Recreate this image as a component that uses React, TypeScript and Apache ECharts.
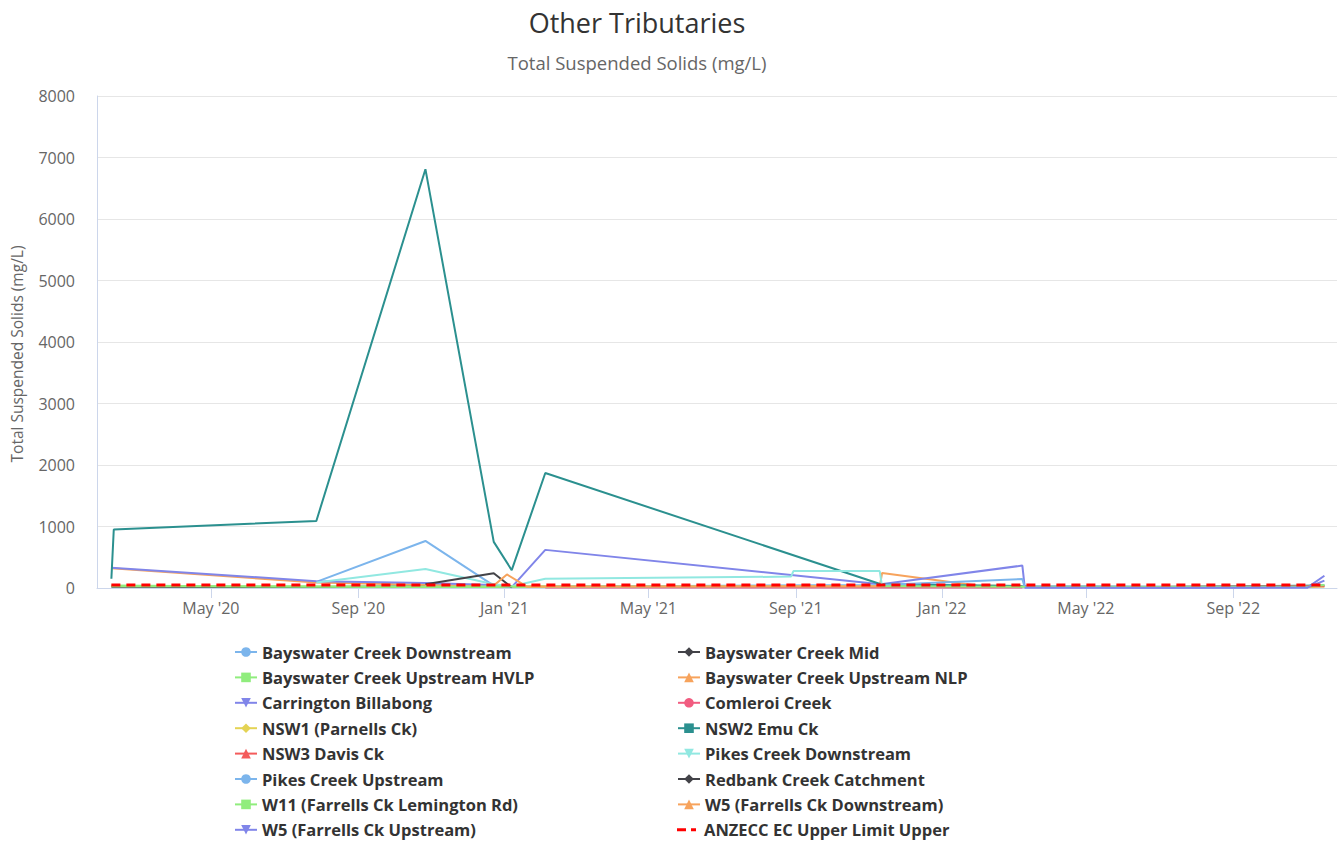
import React, { useEffect, useRef } from "react";
import * as echarts from "echarts";

// ---- data ----
const titleText = "Other Tributaries";
const subtitleText = "Total Suspended Solids (mg/L)";
const yAxisTitle = "Total Suspended Solids (mg/L)";
const yTicks = [0, 1000, 2000, 3000, 4000, 5000, 6000, 7000, 8000];
const xTickDates = ["2020-05-01", "2020-09-01", "2021-01-01", "2021-05-01", "2021-09-01", "2022-01-01", "2022-05-01", "2022-09-01"];
const monthNames = ["Jan", "Feb", "Mar", "Apr", "May", "Jun", "Jul", "Aug", "Sep", "Oct", "Nov", "Dec"];

const bayswaterDownstream: [string, number][] = [["2020-07-28", 100], ["2020-10-27", 765], ["2020-12-23", 40], ["2021-01-07", 20]];
const bayswaterMid: [string, number][] = [["2020-02-08", 20], ["2020-07-28", 15], ["2020-10-27", 30]];
const bayswaterHVLP: [string, number][] = [["2020-02-08", 40], ["2020-07-28", 20], ["2020-12-23", 15], ["2021-02-04", 20], ["2021-11-11", 25], ["2022-03-09", 20]];
const bayswaterNLP: [string, number][] = [["2020-02-08", 320], ["2020-07-28", 90], ["2020-12-23", 30], ["2021-11-10", 20], ["2021-11-12", 245], ["2022-01-30", 40], ["2022-03-09", 30]];
const carrington: [string, number][] = [["2020-02-08", 330], ["2020-07-28", 110], ["2020-10-27", 80], ["2020-12-23", 50], ["2021-01-07", 15], ["2021-02-04", 620], ["2021-11-11", 60], ["2022-03-09", 365], ["2022-03-11", 10], ["2022-07-06", 5], ["2022-11-02", 10], ["2022-11-16", 200]];
const comleroi: [string, number][] = [["2021-02-04", 10], ["2021-11-11", 10], ["2022-03-09", 10]];
const nsw1: [string, number][] = [["2022-07-06", 20], ["2022-11-02", 15], ["2022-11-16", 25]];
const nsw2: [string, number][] = [["2020-02-08", 150], ["2020-02-10", 950], ["2020-07-28", 1090], ["2020-10-27", 6810], ["2020-12-23", 750], ["2021-01-07", 290], ["2021-02-04", 1870], ["2021-11-11", 60], ["2022-03-09", 30], ["2022-07-06", 20], ["2022-11-16", 40]];
const nsw3: [string, number][] = [["2022-07-06", 15], ["2022-11-16", 30]];
const pikesDownstream: [string, number][] = [["2020-07-28", 90], ["2020-10-27", 310], ["2020-12-23", 60], ["2021-01-07", 30], ["2021-02-04", 150], ["2021-08-28", 185], ["2021-08-30", 275], ["2021-11-10", 275], ["2021-11-12", 20]];
const pikesUpstream: [string, number][] = [["2021-02-04", 20], ["2021-11-11", 50], ["2022-03-09", 145], ["2022-03-11", 10]];
const redbank: [string, number][] = [["2020-10-27", 60], ["2020-12-23", 240], ["2021-01-07", 10]];
const w11: [string, number][] = [["2020-02-08", 30], ["2020-07-28", 30], ["2020-10-27", 20], ["2021-02-04", 25], ["2021-11-11", 30], ["2022-03-09", 20], ["2022-07-06", 15], ["2022-11-02", 20], ["2022-11-16", 50]];
const w5Downstream: [string, number][] = [["2020-12-23", 40], ["2021-01-03", 220], ["2021-01-20", 20], ["2021-11-11", 30]];
const w5Upstream: [string, number][] = [["2022-03-11", 10], ["2022-07-06", 5], ["2022-11-02", 10], ["2022-11-16", 120]];
const anzecc: [string, number][] = [["2020-02-08", 50], ["2022-11-16", 50]];

const seriesNames = [
  "Bayswater Creek Downstream", "Bayswater Creek Mid", "Bayswater Creek Upstream HVLP", "Bayswater Creek Upstream NLP",
  "Carrington Billabong", "Comleroi Creek", "NSW1 (Parnells Ck)", "NSW2 Emu Ck", "NSW3 Davis Ck",
  "Pikes Creek Downstream", "Pikes Creek Upstream", "Redbank Creek Catchment", "W11 (Farrells Ck Lemington Rd)",
  "W5 (Farrells Ck Downstream)", "W5 (Farrells Ck Upstream)", "ANZECC EC Upper Limit Upper",
];
const seriesData = [
  bayswaterDownstream, bayswaterMid, bayswaterHVLP, bayswaterNLP, carrington, comleroi, nsw1, nsw2, nsw3,
  pikesDownstream, pikesUpstream, redbank, w11, w5Downstream, w5Upstream, anzecc,
];
const seriesColors = [
  "#7cb5ec", "#434348", "#90ed7d", "#f7a35c", "#8085e9", "#f15c80", "#e4d354", "#2b908f", "#f45b5b",
  "#91e8e1", "#7cb5ec", "#434348", "#90ed7d", "#f7a35c", "#8085e9", "#ff0000",
];
const TRI_DOWN = "path://M0,0 L10,0 L5,10 Z";
const DASH_ICON = "path://M0,0 M22,12 M0,4.5 h9 v3 h-9 Z M14,4.5 h5 v3 h-5 Z";
const seriesSymbols = [
  "circle", "diamond", "rect", "triangle", TRI_DOWN, "circle", "diamond", "rect", "triangle",
  TRI_DOWN, "circle", "diamond", "rect", "triangle", TRI_DOWN, "none",
];

const FONT = "'Open Sans', sans-serif";

export default function App() {
  const ref = useRef<HTMLDivElement>(null);
  useEffect(() => {
    if (!ref.current) return;
    const chart = echarts.init(ref.current, null, { renderer: "svg" });
    const ts = (s: string) => new Date(s + "T00:00:00").getTime();
    const xMin = ts("2020-01-27");
    const xMax = ts("2022-11-26") + 12 * 3600 * 1000;
    const tickVals = xTickDates.map(ts);
    const lastIdx = seriesNames.length - 1;

    const series = seriesNames.map((name, i) => {
      const isLimit = i === lastIdx;
      return {
        name,
        type: "line",
        data: seriesData[i].map(([d, v]) => [ts(d), v]),
        showSymbol: false,
        symbol: seriesSymbols[i],
        symbolSize: 8,
        color: seriesColors[i],
        lineStyle: isLimit
          ? { color: seriesColors[i], width: 3, type: [9, 6] }
          : { color: seriesColors[i], width: 2 },
        itemStyle: { color: seriesColors[i] },
        z: isLimit ? 5 : 2,
        emphasis: { disabled: true },
      };
    });

    // one legend component per entry, laid out in two columns
    const legends = seriesNames.map((name, i) => {
      const col = i % 2;
      const row = Math.floor(i / 2);
      const centerY = 652 + row * 25.4;
      return {
        orient: "horizontal",
        itemWidth: 22,
        itemHeight: 12,
        padding: 0,
        left: col === 0 ? 234 : 677,
        top: centerY - 8.5,
        data: [i === lastIdx ? { name, icon: DASH_ICON } : { name }],
        textStyle: { fontFamily: FONT, fontSize: 16.5, fontWeight: "bold", color: "#333" },
        selectedMode: false,
      };
    });

    chart.setOption({
      animation: false,
      textStyle: { fontFamily: FONT },
      grid: { left: 97, right: 6, top: 96, bottom: 253, containLabel: false },
      xAxis: {
        type: "value",
        min: xMin,
        max: xMax,
        axisLine: { show: true, lineStyle: { color: "#ccd6eb", width: 1 } },
        axisTick: { show: true, customValues: tickVals, length: 10, lineStyle: { color: "#ccd6eb" } },
        axisLabel: {
          customValues: tickVals,
          color: "#666",
          fontSize: 16,
          fontFamily: FONT,
          margin: 12,
          formatter: (v: number) => {
            const d = new Date(v);
            return monthNames[d.getMonth()] + " '" + String(d.getFullYear()).slice(2);
          },
        },
        splitLine: { show: false },
      },
      yAxis: {
        type: "value",
        min: yTicks[0],
        max: yTicks[yTicks.length - 1],
        interval: 1000,
        axisLine: { show: true, lineStyle: { color: "#ccd6eb" } },
        axisTick: { show: false },
        axisLabel: { color: "#666", fontSize: 16, fontFamily: FONT, margin: 22, formatter: (v: number) => String(v) },
        splitLine: { lineStyle: { color: "#e6e6e6" } },
      },
      legend: legends,
      graphic: [
        { type: "text", x: 637, y: 22, style: { text: titleText, fill: "#333", font: `27px ${FONT}`, textAlign: "center", textVerticalAlign: "middle" } },
        { type: "text", x: 637, y: 62, style: { text: subtitleText, fill: "#666", font: `18.5px ${FONT}`, textAlign: "center", textVerticalAlign: "middle" } },
        { type: "text", x: 17, y: 354, rotation: Math.PI / 2, style: { text: yAxisTitle, fill: "#666", font: `15.5px ${FONT}`, textAlign: "center", textVerticalAlign: "middle" } },
      ],
      series,
    });
    return () => chart.dispose();
  }, []);
  return <div ref={ref} style={{ width: 1343, height: 841, position: "absolute", left: 0, top: 0 }} />;
}
